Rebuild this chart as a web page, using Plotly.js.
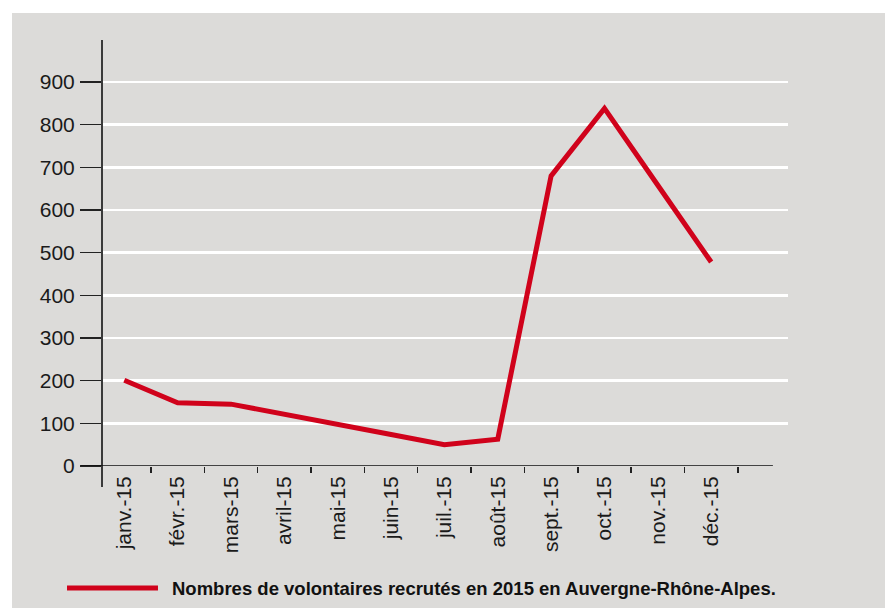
<!DOCTYPE html>
<html>
<head>
<meta charset="utf-8">
<script src="https://cdn.plot.ly/plotly-3.0.1.min.js"></script>
<style>
  html, body { margin: 0; padding: 0; background: #ffffff; }
  #wrap { position: absolute; left: 12px; top: 13px; width: 873px; height: 595px; background: #dcdbd9; }
  #chart { width: 873px; height: 595px; }
</style>
</head>
<body>
<div id="wrap"><div id="chart"></div></div>
<script>
const months = ["janv.-15","févr.-15","mars-15","avril-15","mai-15","juin-15","juil.-15","août-15","sept.-15","oct.-15","nov.-15","déc.-15"];
const volunteers = [201, 148, 145, 122, 98, 74, 50, 63, 680, 838, 658, 478];
const yTicks = [0, 100, 200, 300, 400, 500, 600, 700, 800, 900];
const seriesName = "Nombres de volontaires recrutés en 2015 en Auvergne-Rhône-Alpes.";

const red = "#d0021b";
const tickFont = {family: "Liberation Sans, Arial, sans-serif", size: 21, color: "#1a1a1a"};

const trace = {
  x: months,
  y: volunteers,
  type: "scatter",
  mode: "lines",
  name: seriesName,
  line: {color: red, width: 5},
  showlegend: false
};

const layout = {
  width: 873,
  height: 595,
  margin: {l: 90, r: 97, t: 27, b: 142},
  paper_bgcolor: "#dcdbd9",
  plot_bgcolor: "#dcdbd9",
  showlegend: false,
  xaxis: {
    type: "category",
    range: [-0.418, 12.44],
    tickson: "boundaries",
    ticks: "outside",
    ticklen: 6,
    tickwidth: 1.5,
    tickcolor: "#222",
    tickangle: -90,
    tickfont: tickFont,
    ticklabelstandoff: 5,
    showgrid: false,
    showline: false,
    zeroline: false,
    fixedrange: true
  },
  yaxis: {
    range: [0, 998.4],
    tickvals: yTicks,
    ticktext: yTicks.map(String),
    ticks: "outside",
    ticklen: 21,
    tickwidth: 1.5,
    tickcolor: "#222",
    tickfont: tickFont,
    ticklabelstandoff: 1,
    showgrid: true,
    gridcolor: "#ffffff",
    gridwidth: 2.5,
    showline: false,
    zeroline: false,
    fixedrange: true
  },
  shapes: [
    {type: "line", xref: "paper", yref: "paper", x0: 0, x1: 0, y0: -0.0493, y1: 1,
     line: {color: "#3a3a3a", width: 2}, layer: "above"},
    {type: "line", xref: "paper", yref: "y", x0: -0.0306, x1: 0.978, y0: 0, y1: 0,
     line: {color: "#111", width: 1.5}, layer: "above"},
    {type: "line", xref: "paper", yref: "paper", x0: -0.051, x1: 0.0816, y0: -0.2864, y1: -0.2864,
     line: {color: red, width: 5}, layer: "above"}
  ],
  annotations: [
    {xref: "paper", yref: "paper", x: 0.0991, y: -0.2864, xanchor: "left", yanchor: "middle",
     showarrow: false, text: "<b>" + seriesName + "</b>",
     font: {family: "Liberation Sans, Arial, sans-serif", size: 18.5, color: "#111"}}
  ]
};

Plotly.newPlot("chart", [trace], layout, {displayModeBar: false, staticPlot: true});
</script>
</body>
</html>
